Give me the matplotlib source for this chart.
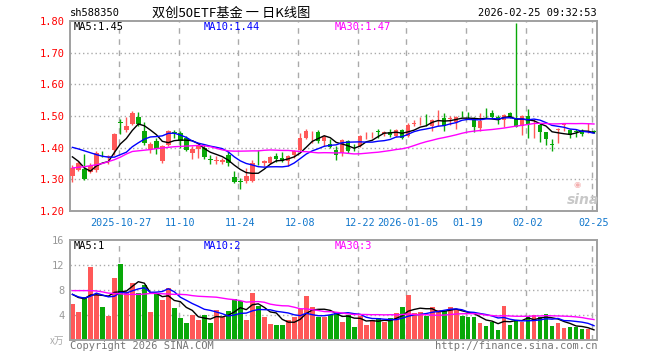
import numpy as np
import pandas as pd
import matplotlib
matplotlib.use("Agg")
import matplotlib.pyplot as plt

plt.rcParams['font.family'] = ['DejaVu Sans Mono', 'Noto Sans CJK SC']

# trading days shown (2025-10-15 .. 2026-02-25)
holidays = ['2026-01-01', '2026-01-02', '2026-02-16', '2026-02-17', '2026-02-18',
            '2026-02-19', '2026-02-20', '2026-02-23']
days = pd.bdate_range('2025-10-15', '2026-02-25')
days = days[~days.isin(pd.to_datetime(holidays))]

opens = [1.310, 1.331, 1.333, 1.323, 1.329, 1.384, 1.369, 1.392, 1.481, 1.456,
         1.475, 1.498, 1.454, 1.396, 1.422, 1.357, 1.409, 1.450, 1.446, 1.430,
         1.383, 1.396, 1.400, 1.363, 1.358, 1.355, 1.378, 1.308, 1.295, 1.295,
         1.295, 1.353, 1.350, 1.352, 1.375, 1.366, 1.357, 1.378, 1.392, 1.432,
         1.449, 1.450, 1.420, 1.411, 1.394, 1.383, 1.422, 1.397, 1.404, 1.442,
         1.448, 1.452, 1.443, 1.450, 1.438, 1.456, 1.438, 1.475, 1.486, 1.478,
         1.467, 1.499, 1.493, 1.492, 1.482, 1.509, 1.501, 1.493, 1.461, 1.507,
         1.508, 1.498, 1.488, 1.510, 1.493, 1.469, 1.500, 1.486, 1.472, 1.449,
         1.412, 1.457, 1.472, 1.456, 1.452, 1.451, 1.448, 1.452]
highs = [1.344, 1.357, 1.381, 1.352, 1.389, 1.391, 1.378, 1.446, 1.490, 1.498,
         1.516, 1.514, 1.482, 1.417, 1.430, 1.409, 1.456, 1.456, 1.453, 1.437,
         1.404, 1.413, 1.410, 1.378, 1.375, 1.368, 1.388, 1.326, 1.305, 1.336,
         1.362, 1.394, 1.360, 1.373, 1.383, 1.385, 1.378, 1.392, 1.446, 1.458,
         1.454, 1.456, 1.440, 1.427, 1.404, 1.427, 1.425, 1.412, 1.440, 1.451,
         1.451, 1.458, 1.454, 1.458, 1.458, 1.458, 1.477, 1.487, 1.498, 1.506,
         1.490, 1.519, 1.510, 1.500, 1.500, 1.517, 1.514, 1.496, 1.508, 1.524,
         1.519, 1.503, 1.506, 1.514, 1.795, 1.503, 1.521, 1.490, 1.477, 1.451,
         1.427, 1.461, 1.479, 1.458, 1.458, 1.458, 1.477, 1.456]
lows = [1.292, 1.326, 1.298, 1.321, 1.323, 1.371, 1.347, 1.378, 1.444, 1.451,
        1.472, 1.469, 1.409, 1.383, 1.381, 1.352, 1.404, 1.430, 1.399, 1.391,
        1.363, 1.368, 1.364, 1.350, 1.350, 1.350, 1.342, 1.290, 1.270, 1.290,
        1.292, 1.344, 1.342, 1.350, 1.354, 1.354, 1.342, 1.368, 1.389, 1.427,
        1.415, 1.415, 1.404, 1.399, 1.360, 1.373, 1.383, 1.388, 1.402, 1.427,
        1.430, 1.430, 1.437, 1.435, 1.435, 1.427, 1.435, 1.469, 1.472, 1.467,
        1.453, 1.467, 1.454, 1.472, 1.458, 1.496, 1.493, 1.451, 1.454, 1.493,
        1.493, 1.475, 1.465, 1.493, 1.466, 1.441, 1.430, 1.430, 1.417, 1.410,
        1.389, 1.415, 1.454, 1.430, 1.435, 1.437, 1.446, 1.446]
closes = [1.336, 1.350, 1.300, 1.342, 1.383, 1.382, 1.373, 1.443, 1.478, 1.469,
          1.510, 1.474, 1.415, 1.411, 1.396, 1.404, 1.453, 1.447, 1.420, 1.394,
          1.396, 1.406, 1.371, 1.361, 1.360, 1.361, 1.350, 1.292, 1.293, 1.310,
          1.350, 1.351, 1.357, 1.371, 1.363, 1.357, 1.375, 1.389, 1.432, 1.453,
          1.450, 1.420, 1.433, 1.402, 1.378, 1.425, 1.391, 1.395, 1.437, 1.444,
          1.449, 1.450, 1.450, 1.440, 1.456, 1.432, 1.472, 1.477, 1.487, 1.477,
          1.487, 1.500, 1.469, 1.493, 1.496, 1.508, 1.500, 1.465, 1.485, 1.505,
          1.498, 1.488, 1.503, 1.496, 1.465, 1.500, 1.475, 1.488, 1.451, 1.427,
          1.410, 1.459, 1.473, 1.440, 1.450, 1.443, 1.454, 1.451]
volumes = [5.76, 4.53, 6.93, 11.73, 7.2, 5.33, 3.89, 9.97, 12.2, 7.73,
           9.17, 7.57, 8.8, 4.53, 7.36, 6.4, 8.27, 5.07, 3.57, 2.77,
           4.0, 3.2, 4.0, 2.77, 4.8, 3.63, 4.64, 6.56, 6.24, 3.2,
           7.52, 5.44, 3.73, 2.56, 2.4, 2.4, 3.2, 3.63, 4.9, 7.04,
           5.23, 3.73, 3.73, 4.0, 4.53, 2.88, 4.0, 2.08, 3.84, 2.4,
           3.2, 3.47, 2.88, 3.47, 4.27, 5.23, 7.2, 4.27, 4.48, 3.84,
           5.23, 4.8, 4.69, 5.23, 4.8, 3.84, 3.63, 3.63, 2.67, 2.24,
           2.93, 1.6, 5.44, 2.4, 3.2, 2.93, 3.73, 4.0, 3.63, 4.16,
           2.24, 2.77, 1.97, 2.13, 2.13, 1.81, 1.81, 0.21]

# moving-average values before the window fills
ma5_head = [1.371, 1.357, 1.336, 1.326]
ma10_head = [1.401, 1.396, 1.390, 1.384, 1.378, 1.373, 1.370, 1.370, 1.378]
ma30_head = [1.336, 1.338, 1.340, 1.343, 1.346, 1.350, 1.356, 1.362, 1.370, 1.380,
             1.388, 1.390, 1.392, 1.394, 1.397, 1.399, 1.401, 1.403, 1.404, 1.405,
             1.406, 1.407, 1.406, 1.403, 1.398, 1.393, 1.390, 1.389, 1.389]
vma5_head = [7.3, 6.8, 6.6, 7.2]
vma10_head = [7.3, 6.9, 6.7, 7.0, 7.5, 7.2, 6.9, 7.0, 7.6]
vma30_head = [7.9, 7.9, 7.9, 7.9, 7.85, 7.7, 7.5, 7.45, 7.4, 7.3,
              7.3, 7.3, 7.35, 7.45, 7.45, 7.4, 7.35, 7.3, 7.3, 7.25,
              7.1, 7.0, 6.95, 6.9, 6.85, 6.7, 6.55, 6.45, 6.3]

tick_dates = ['2025-10-27', '2025-11-10', '2025-11-24', '2025-12-08', '2025-12-22',
              '2026-01-05', '2026-01-19', '2026-02-02', '2026-02-25']
tick_labels = ['2025-10-27', '11-10', '11-24', '12-08', '12-22', '2026-01-05',
               '01-19', '02-02', '02-25']
price_ticks = [1.20, 1.30, 1.40, 1.50, 1.60, 1.70, 1.80]
vol_ticks = [4, 8, 12, 16]
ma_labels = ['MA5:1.45', 'MA10:1.44', 'MA30:1.47']
vma_labels = ['MA5:1', 'MA10:2', 'MA30:3']

RED = '#ff5858'
GREEN = '#08a808'
MA_COLORS = ['black', '#0000ff', '#ff00ff']
GRID = '#aaaaaa'
FRAME = '#a0a0a0'


def with_head(values, n, head):
    ma = pd.Series(values).rolling(n).mean().to_numpy()
    ma[:n - 1] = head
    return ma


o = np.array(opens); h = np.array(highs); l = np.array(lows); c = np.array(closes)
v = np.array(volumes)
x = np.arange(len(c))
up = c >= o
cols = np.where(up, RED, GREEN)
tick_pos = [days.get_loc(pd.Timestamp(d)) for d in tick_dates]

W, H = 660, 360
fig = plt.figure(figsize=(W / 100, H / 100), dpi=100)
ax = fig.add_axes([70 / W, 1 - 211 / H, 527 / W, 190 / H])
axv = fig.add_axes([70 / W, 1 - 340 / H, 527 / W, 100 / H])

for a in (ax, axv):
    a.set_xlim(-0.4, len(c) - 0.5)
    for s in a.spines.values():
        s.set_color(FRAME); s.set_linewidth(1.4)
    for p in tick_pos:
        a.axvline(p - 0.3, color=GRID, lw=1, ls=(0, (4, 4)), zorder=0)

# price panel
ax.set_ylim(1.20, 1.80)
for yv in price_ticks[1:-1]:
    ax.axhline(yv, color=GRID, lw=1, ls=(0, (1, 2)), zorder=0)
ax.vlines(x, l, h, colors=cols, lw=1, zorder=2)
body = np.maximum(np.abs(c - o), 0.0015)
ax.bar(x, body, bottom=np.minimum(o, c), width=0.75, color=cols, lw=0, zorder=3)
for n, head, col in zip((5, 10, 30), (ma5_head, ma10_head, ma30_head), MA_COLORS):
    ax.plot(x, with_head(c, n, head), color=col, lw=1, zorder=4)
ax.set_yticks(price_ticks, [f'{t:.2f}' for t in price_ticks])
ax.set_xticks(tick_pos, tick_labels)
ax.tick_params(axis='y', length=0, pad=4, labelcolor='#ff0000', labelsize=7.5)
ax.tick_params(axis='x', length=0, pad=5, labelcolor='#1177cc', labelsize=7.3)
for lab, col, px in zip(ma_labels, MA_COLORS, (74, 204, 335)):
    fig.text(px / W, 1 - 27 / H, lab, color=col, fontsize=7.5, va='center')
# faint watermark
fig.text(577 / W, 1 - 184 / H, '◉', color='#f4b0b0', fontsize=6,
         ha='center', va='center', family='DejaVu Sans')
fig.text(583 / W, 1 - 200 / H, 'sina', color='#c8c8c8', fontsize=10,
         style='italic', weight='bold', ha='center', va='center',
         family='DejaVu Sans')

# volume panel
axv.set_ylim(0, 16)
for yv in vol_ticks[:-1]:
    axv.axhline(yv, color=GRID, lw=1, ls=(0, (1, 2)), zorder=0)
axv.bar(x, v, width=0.8, color=cols, lw=0, zorder=2)
for n, head, col in zip((5, 10, 30), (vma5_head, vma10_head, vma30_head), MA_COLORS):
    axv.plot(x, with_head(v, n, head), color=col, lw=1, zorder=3)
axv.set_yticks(vol_ticks, [str(t) for t in vol_ticks])
axv.set_xticks([])
axv.tick_params(axis='y', length=0, pad=4, labelcolor='#999999', labelsize=7.5)
for lab, col, px in zip(vma_labels, MA_COLORS, (74, 204, 335)):
    fig.text(px / W, 1 - 246 / H, lab, color=col, fontsize=7.5, va='center')

# header and footer texts
fig.text(70 / W, 1 - 13 / H, 'sh588350', fontsize=7.5, va='center')
fig.text(231 / W, 1 - 13 / H, '双创50ETF基金 一 日K线图', fontsize=9.5,
         ha='center', va='center', family=['Noto Sans CJK SC', 'DejaVu Sans'])
fig.text(597 / W, 1 - 13 / H, '2026-02-25 09:32:53', fontsize=7.5,
         ha='right', va='center')
fig.text(64 / W, 1 - 341 / H, 'x万', fontsize=7, color='#aaaaaa',
         ha='right', va='center', family=['Noto Sans CJK SC', 'DejaVu Sans'])
fig.text(70 / W, 1 - 346 / H, 'Copyright 2026 SINA.COM', fontsize=7.5,
         color='#777777', va='center')
fig.text(597 / W, 1 - 346 / H, 'http://finance.sina.com.cn', fontsize=7.5,
         color='#777777', ha='right', va='center')

fig.savefig('out.png', dpi=100)
